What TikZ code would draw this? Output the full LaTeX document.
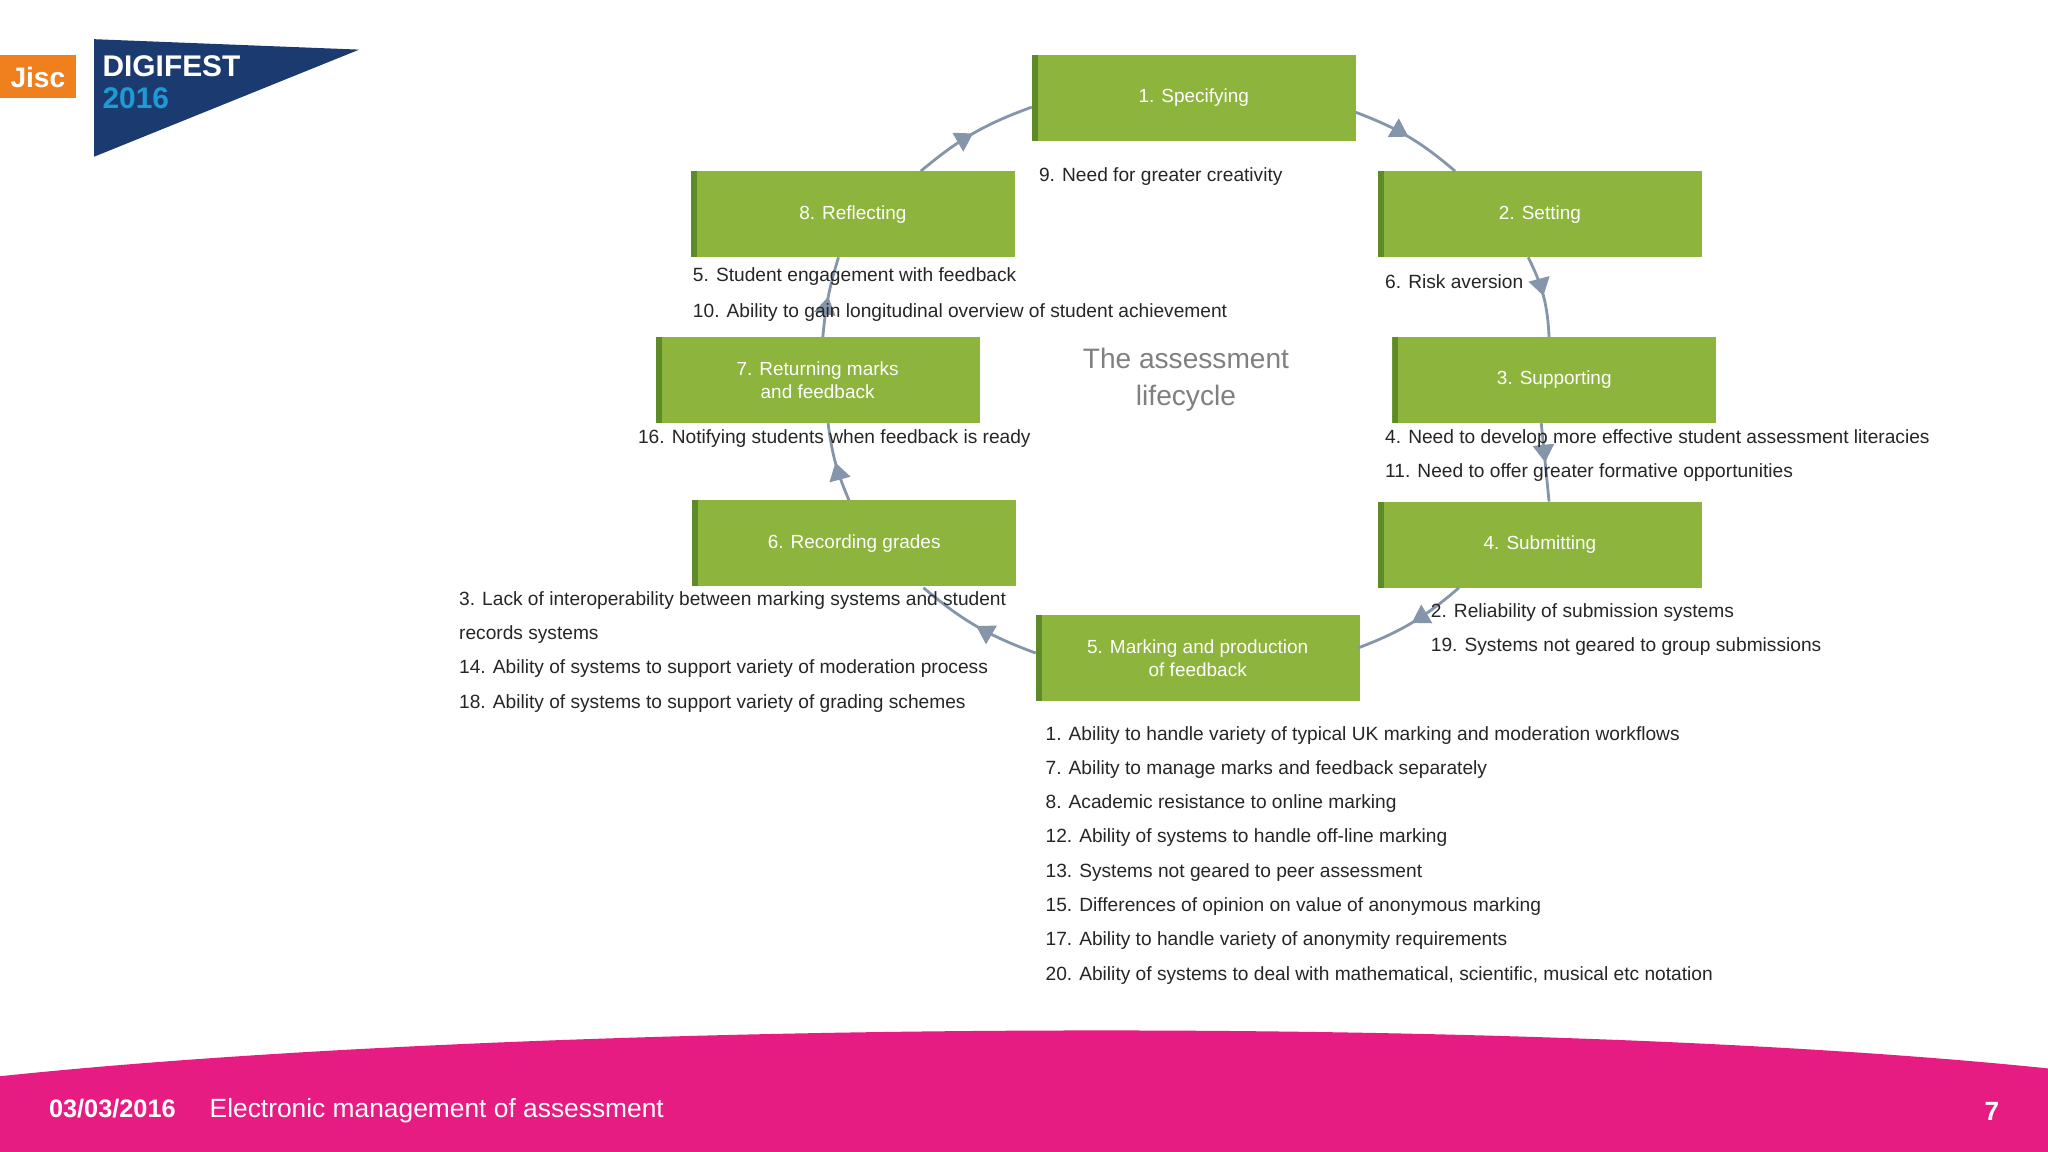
\documentclass[tikz,border=0pt]{standalone}
\usepackage{fontspec}
\setmainfont{Liberation Sans}
\usetikzlibrary{decorations.markings,arrows.meta}
\definecolor{grn}{HTML}{8DB43C}
\definecolor{dgrn}{HTML}{5E8A28}
\definecolor{arr}{HTML}{8595AA}
\definecolor{mag}{HTML}{E61C82}
\definecolor{navy}{HTML}{1B3A70}
\definecolor{cyan}{HTML}{1E9AD6}
\definecolor{jisc}{HTML}{F07F1E}
\begin{document}
\begin{tikzpicture}[x=0.01306cm,y=-0.01306cm,
  box/.style={fill=grn,draw=none,minimum width=248*0.01306cm,minimum height=66*0.01306cm,text=white,font=\fontsize{5.4}{6.4}\selectfont,align=center,path picture={\fill[dgrn] (path picture bounding box.north west) rectangle ([xshift=0.06cm]path picture bounding box.south west);}},
  lbl/.style={anchor=west,inner sep=0,font=\fontsize{5.45}{6}\selectfont,text=black!85},
  cyc/.style={arr,line width=0.8pt,postaction={decorate},decoration={markings,mark=at position 0.5 with {\arrow{Triangle[length=5pt,width=6pt]}}}}]
\useasboundingbox (0,0) rectangle (1568,882);
\fill[white] (0,0) rectangle (1568,882);
% logo
\fill[jisc] (0,42) rectangle (58,75);
\node[text=white,font=\bfseries\fontsize{8}{9}\selectfont] (jisc) at (29,59) {Jisc};
\fill[navy] (72,30) -- (275,38) -- (72,120) -- cycle;
\node[anchor=west,inner sep=0,text=white,font=\bfseries\fontsize{8.5}{9}\selectfont] (dig) at (78,51) {DIGIFEST};
\node[anchor=west,inner sep=0,text=cyan,font=\bfseries\fontsize{8.5}{9}\selectfont] (yr) at (78,75) {2016};
% boxes
\node[box] (b1) at (914,75) {1. Specifying};
\node[box] (b2) at (1179,164) {2. Setting};
\node[box] (b3) at (1190,291) {3. Supporting};
\node[box] (b4) at (1179,417) {4. Submitting};
\node[box] (b5) at (917,504) {5. Marking and production\\of feedback};
\node[box] (b6) at (654,416) {6. Recording grades};
\node[box] (b7) at (626,291) {7. Returning marks\\and feedback};
\node[box] (b8) at (653,164) {8. Reflecting};
% arrow end points
\coordinate (a1) at (1038,86);  \coordinate (a2) at (1114,131);
\coordinate (c1) at (1170,197); \coordinate (c2) at (1186,258);
\coordinate (d1) at (1180,324); \coordinate (d2) at (1186,384);
\coordinate (e1) at (1117,450); \coordinate (e2) at (1040,496);
\coordinate (f1) at (793,500);  \coordinate (f2) at (707,450);
\coordinate (g1) at (650,383);  \coordinate (g2) at (634,324);
\coordinate (h1) at (630,258);  \coordinate (h2) at (642,197);
\coordinate (i1) at (705,131);  \coordinate (i2) at (790,82);
% cycle arrows
\draw[cyc] (a1) to[bend left=10] (a2);
\draw[cyc] (c1) to[bend left=12] (c2);
\draw[cyc] (d1) -- (d2);
\draw[cyc] (e1) to[bend left=10] (e2);
\draw[cyc] (f1) to[bend left=10] (f2);
\draw[cyc] (g1) to[bend left=8] (g2);
\draw[cyc] (h1) to[bend left=6] (h2);
\draw[cyc] (i1) to[bend left=10] (i2);
% center title
\node[text=black!50,font=\fontsize{8}{10.5}\selectfont,align=center] (t) at (908,291) {The assessment\\lifecycle};
% labels
\node[lbl] (l9) at (795,135) {9. Need for greater creativity};
\node[lbl] (l5) at (530,212) {5. Student engagement with feedback};
\node[lbl] (l10) at (530,239) {10. Ability to gain longitudinal overview of student achievement};
\node[lbl] (l6) at (1060,216) {6. Risk aversion};
\node[lbl] (l16) at (488,336) {16. Notifying students when feedback is ready};
\node[lbl] (l4) at (1060,336) {4. Need to develop more effective student assessment literacies};
\node[lbl] (l11) at (1060,362) {11. Need to offer greater formative opportunities};
\node[lbl] (l3) at (351,460) {3. Lack of interoperability between marking systems and student};
\node[lbl] (l3b) at (351,486) {records systems};
\node[lbl] (l14) at (351,512) {14. Ability of systems to support variety of moderation process};
\node[lbl] (l18) at (351,539) {18. Ability of systems to support variety of grading schemes};
\node[lbl] (l2) at (1095,469) {2. Reliability of submission systems};
\node[lbl] (l19) at (1095,495) {19. Systems not geared to group submissions};
\node[lbl] (m1) at (800,563) {1. Ability to handle variety of typical UK marking and moderation workflows};
\node[lbl] (m7) at (800,589) {7. Ability to manage marks and feedback separately};
\node[lbl] (m8) at (800,615) {8. Academic resistance to online marking};
\node[lbl] (m12) at (800,641) {12. Ability of systems to handle off-line marking};
\node[lbl] (m13) at (800,668) {13. Systems not geared to peer assessment};
\node[lbl] (m15) at (800,694) {15. Differences of opinion on value of anonymous marking};
\node[lbl] (m17) at (800,720) {17. Ability to handle variety of anonymity requirements};
\node[lbl] (m20) at (800,747) {20. Ability of systems to deal with mathematical, scientific, musical etc notation};
% footer
\fill[mag] (0,824) .. controls (400,782) and (1150,775) .. (1568,818) -- (1568,882) -- (0,882) -- cycle;
\node[anchor=west,inner sep=0,text=white,font=\bfseries\fontsize{7.2}{9}\selectfont] (d) at (37,849) {03/03/2016};
\node[anchor=west,inner sep=0,text=white,font=\fontsize{7.5}{9}\selectfont] (e) at (160,850) {Electronic management of assessment};
\node[anchor=center,inner sep=0,text=white,font=\bfseries\fontsize{7.5}{9}\selectfont] (p) at (1525,851) {7};
\end{tikzpicture}
\end{document}
